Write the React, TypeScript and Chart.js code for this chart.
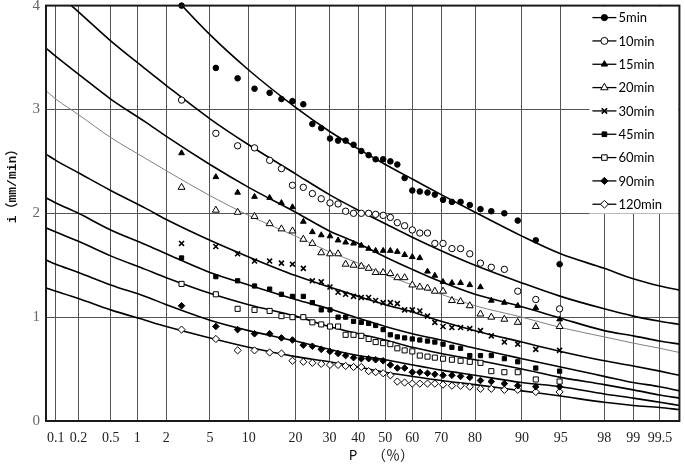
import React, { useEffect, useRef } from 'react';
import { Chart, registerables } from 'chart.js';
import { drawPoint } from 'chart.js/helpers';

Chart.register(...registerables);

const SERIES = ['5min', '10min', '15min', '20min', '30min', '45min', '60min', '90min', '120min'];
const TICK_P = [0.1, 0.2, 0.5, 1, 2, 5, 10, 20, 30, 40, 50, 60, 70, 80, 90, 95, 98, 99, 99.5];
const TICK_LABELS = ['0.1', '0.2', '0.5', '1', '2', '5', '10', '20', '30', '40', '50', '60', '70', '80', '90', '95', '98', '99', '99.5'];
const Y_TICKS = [0, 1, 2, 3, 4];
const P_MIN = 0.073;
const P_MAX = 99.71;

// empirical exceedance frequencies (%) of the observations
const OBS_P = [2.8, 5.6, 8.3, 11.0, 13.9, 16.5, 19.2, 22.1, 24.7, 27.4, 30.2, 32.9, 35.5, 38.3, 41.1, 43.8, 46.4, 49.2, 51.9, 54.5, 57.2, 60.0, 62.7, 65.4, 67.9, 70.6, 73.4, 76.0, 78.6, 81.4, 84.0, 86.8, 89.3, 92.1, 94.9];
const OBS_5 = [4.00, 3.40, 3.30, 3.20, 3.16, 3.10, 3.08, 3.05, 2.86, 2.82, 2.72, 2.70, 2.70, 2.66, 2.60, 2.56, 2.52, 2.52, 2.50, 2.47, 2.34, 2.22, 2.21, 2.20, 2.18, 2.13, 2.11, 2.11, 2.08, 2.04, 2.02, 2.00, 1.93, 1.74, 1.51];
const OBS_10 = [3.09, 2.77, 2.65, 2.63, 2.51, 2.43, 2.27, 2.25, 2.19, 2.14, 2.10, 2.09, 2.02, 2.00, 2.00, 2.00, 1.99, 1.98, 1.96, 1.91, 1.88, 1.84, 1.81, 1.81, 1.71, 1.71, 1.66, 1.66, 1.61, 1.52, 1.48, 1.46, 1.25, 1.17, 1.08];
const OBS_15 = [2.58, 2.35, 2.20, 2.16, 2.15, 2.10, 2.06, 1.92, 1.82, 1.79, 1.78, 1.74, 1.72, 1.71, 1.69, 1.66, 1.64, 1.64, 1.64, 1.63, 1.60, 1.58, 1.57, 1.44, 1.40, 1.34, 1.33, 1.33, 1.31, 1.29, 1.16, 1.14, 1.11, 1.09, 0.98];
const OBS_20 = [2.25, 2.03, 2.01, 1.97, 1.90, 1.85, 1.83, 1.75, 1.71, 1.62, 1.61, 1.61, 1.51, 1.50, 1.49, 1.47, 1.43, 1.43, 1.42, 1.38, 1.38, 1.31, 1.29, 1.28, 1.25, 1.25, 1.16, 1.15, 1.11, 1.03, 1.00, 0.98, 0.95, 0.91, 0.91];
const OBS_30 = [1.71, 1.68, 1.61, 1.54, 1.54, 1.52, 1.51, 1.47, 1.35, 1.34, 1.29, 1.24, 1.22, 1.20, 1.19, 1.19, 1.16, 1.14, 1.14, 1.13, 1.07, 1.07, 1.06, 1.01, 0.95, 0.91, 0.90, 0.90, 0.89, 0.87, 0.82, 0.76, 0.74, 0.69, 0.68];
const OBS_45 = [1.57, 1.39, 1.35, 1.30, 1.27, 1.22, 1.20, 1.20, 1.14, 1.07, 1.07, 1.00, 1.00, 0.96, 0.95, 0.94, 0.92, 0.88, 0.83, 0.81, 0.80, 0.79, 0.78, 0.77, 0.76, 0.74, 0.71, 0.70, 0.63, 0.63, 0.63, 0.60, 0.57, 0.51, 0.48];
const OBS_60 = [1.32, 1.22, 1.08, 1.07, 1.06, 1.01, 1.00, 1.00, 0.95, 0.93, 0.91, 0.91, 0.83, 0.83, 0.82, 0.79, 0.76, 0.75, 0.74, 0.70, 0.68, 0.67, 0.63, 0.62, 0.61, 0.60, 0.59, 0.58, 0.57, 0.56, 0.48, 0.47, 0.47, 0.40, 0.38];
const OBS_90 = [1.11, 0.91, 0.88, 0.84, 0.84, 0.80, 0.78, 0.73, 0.72, 0.69, 0.67, 0.65, 0.63, 0.61, 0.60, 0.60, 0.59, 0.58, 0.54, 0.51, 0.51, 0.47, 0.47, 0.46, 0.45, 0.44, 0.44, 0.43, 0.42, 0.39, 0.38, 0.36, 0.34, 0.33, 0.33];
const OBS_120 = [0.88, 0.79, 0.68, 0.68, 0.66, 0.65, 0.58, 0.57, 0.56, 0.55, 0.54, 0.54, 0.53, 0.52, 0.52, 0.48, 0.47, 0.46, 0.44, 0.38, 0.37, 0.36, 0.36, 0.36, 0.36, 0.35, 0.34, 0.34, 0.33, 0.31, 0.31, 0.30, 0.30, 0.28, 0.28];

// fitted frequency curves, read at these frequencies (%)
const CURVE_P = [0.073, 0.1, 0.2, 0.5, 1.22, 2, 5, 10, 20, 30, 40, 50, 60, 70, 80, 90, 95, 98, 99, 99.5, 99.71];
const FIT_5 = [5.48, 5.35, 5.11, 4.73, 4.37, 4.16, 3.72, 3.38, 3.02, 2.79, 2.62, 2.47, 2.33, 2.18, 2.01, 1.78, 1.61, 1.47, 1.37, 1.30, 1.26];
const FIT_10 = [4.22, 4.13, 3.94, 3.66, 3.39, 3.23, 2.91, 2.66, 2.38, 2.18, 2.03, 1.90, 1.77, 1.64, 1.50, 1.33, 1.20, 1.08, 1.01, 0.96, 0.93];
const FIT_15 = [3.59, 3.51, 3.34, 3.10, 2.88, 2.74, 2.47, 2.25, 2.01, 1.83, 1.71, 1.58, 1.46, 1.34, 1.22, 1.10, 0.99, 0.87, 0.82, 0.77, 0.74];
const FIT_20 = [3.18, 3.10, 2.95, 2.73, 2.53, 2.41, 2.17, 1.98, 1.78, 1.63, 1.52, 1.41, 1.31, 1.22, 1.11, 1.00, 0.90, 0.81, 0.75, 0.70, 0.66];
const FIT_30 = [2.57, 2.51, 2.39, 2.22, 2.05, 1.94, 1.74, 1.58, 1.40, 1.29, 1.20, 1.12, 1.05, 0.96, 0.87, 0.76, 0.67, 0.58, 0.53, 0.48, 0.44];
const FIT_45 = [2.15, 2.10, 2.00, 1.84, 1.70, 1.61, 1.43, 1.31, 1.17, 1.08, 0.99, 0.91, 0.84, 0.78, 0.70, 0.60, 0.52, 0.43, 0.37, 0.33, 0.29];
const FIT_60 = [1.86, 1.82, 1.73, 1.59, 1.46, 1.38, 1.23, 1.12, 1.01, 0.91, 0.84, 0.78, 0.71, 0.65, 0.59, 0.50, 0.42, 0.35, 0.30, 0.25, 0.22];
const FIT_90 = [1.55, 1.51, 1.43, 1.31, 1.20, 1.12, 0.97, 0.87, 0.77, 0.69, 0.63, 0.59, 0.54, 0.49, 0.44, 0.37, 0.33, 0.26, 0.22, 0.18, 0.15];
const FIT_120 = [1.28, 1.25, 1.18, 1.07, 0.97, 0.91, 0.80, 0.71, 0.62, 0.57, 0.52, 0.47, 0.43, 0.39, 0.35, 0.29, 0.24, 0.18, 0.15, 0.13, 0.11];

const OBS = [OBS_5, OBS_10, OBS_15, OBS_20, OBS_30, OBS_45, OBS_60, OBS_90, OBS_120];
const FITS = [FIT_5, FIT_10, FIT_15, FIT_20, FIT_30, FIT_45, FIT_60, FIT_90, FIT_120];

// marker styles
const MARKERS = [
  { style: 'circle', filled: true, r: 2.8, bw: 1 },
  { style: 'circle', filled: false, r: 3.2, bw: 1 },
  { style: 'triangle', filled: true, r: 3.3, bw: 1 },
  { style: 'triangle', filled: false, r: 4, bw: 1 },
  { style: 'crossRot', filled: false, r: 3.5, bw: 1.6 },
  { style: 'rect', filled: true, r: 3, bw: 1 },
  { style: 'rect', filled: false, r: 3.6, bw: 1 },
  { style: 'rectRot', filled: true, r: 3.3, bw: 1 },
  { style: 'rectRot', filled: false, r: 3.6, bw: 1 },
];

// inverse standard normal CDF (Acklam)
function normInv(p: number): number {
  const a = [-3.969683028665376e1, 2.209460984245205e2, -2.759285104469687e2, 1.38357751867269e2, -3.066479806614716e1, 2.506628277459239];
  const b = [-5.447609879822406e1, 1.615858368580409e2, -1.556989798598866e2, 6.680131188771972e1, -1.328068155288572e1];
  const c = [-7.784894002430293e-3, -3.223964580411365e-1, -2.400758277161838, -2.549732539343734, 4.374664141464968, 2.938163982698783];
  const d = [7.784695709041462e-3, 3.224671290700398e-1, 2.445134137142996, 3.754408661907416];
  const pl = 0.02425;
  if (p < pl) {
    const q = Math.sqrt(-2 * Math.log(p));
    return (((((c[0] * q + c[1]) * q + c[2]) * q + c[3]) * q + c[4]) * q + c[5]) / ((((d[0] * q + d[1]) * q + d[2]) * q + d[3]) * q + 1);
  }
  if (p > 1 - pl) {
    const q = Math.sqrt(-2 * Math.log(1 - p));
    return -(((((c[0] * q + c[1]) * q + c[2]) * q + c[3]) * q + c[4]) * q + c[5]) / ((((d[0] * q + d[1]) * q + d[2]) * q + d[3]) * q + 1);
  }
  const q = p - 0.5;
  const r = q * q;
  return (((((a[0] * r + a[1]) * r + a[2]) * r + a[3]) * r + a[4]) * r + a[5]) * q / (((((b[0] * r + b[1]) * r + b[2]) * r + b[3]) * r + b[4]) * r + 1);
}
const zOf = (pct: number) => normInv(pct / 100);

const framePlugin = {
  id: 'frameAndLegend',
  afterDraw(chart: any) {
    const { ctx, chartArea } = chart;
    const { left, right, top, bottom } = chartArea;
    ctx.save();
    // legend box
    const lx = right - 90;
    ctx.fillStyle = '#ffffff';
    ctx.fillRect(lx, top + 1, right - lx - 1, 207);
    SERIES.forEach((name, i) => {
      const y = top + 12 + i * 23.33;
      const m = MARKERS[i];
      ctx.strokeStyle = '#000';
      ctx.lineWidth = 1.3;
      ctx.beginPath();
      ctx.moveTo(lx + 3, y);
      ctx.lineTo(lx + 27, y);
      ctx.stroke();
      ctx.fillStyle = m.filled ? '#000' : '#fff';
      ctx.strokeStyle = '#000';
      ctx.lineWidth = m.bw;
      drawPoint(ctx, { pointStyle: m.style, radius: m.r + 0.3, rotation: 0, borderWidth: m.bw }, lx + 15, y);
      ctx.fillStyle = '#000';
      ctx.font = '13px Lato, "Liberation Sans", sans-serif';
      ctx.textAlign = 'left';
      ctx.textBaseline = 'middle';
      ctx.fillText(name, lx + 29, y + 0.5);
    });
    // frame
    ctx.strokeStyle = '#1a1a1a';
    ctx.lineWidth = 2;
    ctx.strokeRect(left, top, right - left, bottom - top);
    // axis titles
    ctx.fillStyle = '#111';
    ctx.font = 'bold 13px "Liberation Mono", "Noto Sans CJK SC", monospace';
    ctx.textAlign = 'center';
    ctx.textBaseline = 'middle';
    ctx.translate(13, 183);
    ctx.rotate(-Math.PI / 2);
    ctx.fillText('i（mm/min）', 0, 0);
    ctx.setTransform(1, 0, 0, 1, 0, 0);
    ctx.font = '14px "Liberation Mono", "Noto Sans CJK SC", monospace';
    ctx.textAlign = 'left';
    ctx.fillText('P', 349, 456);
    ctx.fillText('（％）', 372, 456);
    ctx.restore();
  },
};

export default function App() {
  const ref = useRef<HTMLCanvasElement | null>(null);
  useEffect(() => {
    document.body.style.margin = '0';
    const canvas = ref.current;
    if (!canvas) return;
    const datasets: any[] = [];
    SERIES.forEach((name, i) => {
      const m = MARKERS[i];
      datasets.push({
        type: 'line',
        label: name + ' fit',
        data: CURVE_P.map((p, k) => ({ x: zOf(p), y: FITS[i][k] })),
        borderColor: i === 3 ? '#808080' : '#000',
        borderWidth: i === 3 ? 1 : 1.6,
        pointRadius: 0,
        cubicInterpolationMode: 'monotone',
        fill: false,
        order: 2,
      });
      datasets.push({
        type: 'scatter',
        label: name,
        data: OBS_P.map((p, k) => ({ x: zOf(p), y: OBS[i][k] })),
        showLine: false,
        pointStyle: m.style,
        pointRadius: m.r,
        pointBorderWidth: m.bw,
        pointBackgroundColor: m.filled ? '#000' : '#fff',
        pointBorderColor: '#000',
        clip: 6,
        order: 1,
      });
    });
    const chart = new Chart(canvas, {
      type: 'scatter',
      data: { datasets },
      options: {
        responsive: false,
        animation: false,
        devicePixelRatio: 1,
        layout: { padding: { left: 0, right: 1, top: 4, bottom: 0 } },
        plugins: { legend: { display: false }, tooltip: { enabled: false } },
        scales: {
          x: {
            type: 'linear',
            min: zOf(P_MIN),
            max: zOf(P_MAX),
            afterBuildTicks: (scale: any) => {
              scale.ticks = TICK_P.map((p) => ({ value: zOf(p) }));
            },
            afterFit: (scale: any) => {
              scale.height = 44;
              scale.paddingLeft = 0;
              scale.paddingRight = 0;
            },
            grid: { color: '#555', lineWidth: 1, drawTicks: false },
            border: { color: '#1a1a1a', width: 2 },
            ticks: {
              autoSkip: false,
              maxRotation: 0,
              padding: 9,
              color: '#222',
              font: { family: '"Liberation Serif", serif', size: 14 },
              callback: (_v: any, idx: number) => TICK_LABELS[idx],
            },
          },
          y: {
            type: 'linear',
            min: 0,
            max: 4,
            afterBuildTicks: (scale: any) => {
              scale.ticks = Y_TICKS.map((v) => ({ value: v }));
            },
            afterFit: (scale: any) => {
              scale.width = 46;
              scale.paddingTop = 0;
              scale.paddingBottom = 0;
            },
            grid: { color: '#555', lineWidth: 1, drawTicks: false },
            border: { color: '#1a1a1a', width: 2 },
            ticks: {
              padding: 6,
              color: '#666',
              font: { family: '"Liberation Serif", serif', size: 15 },
              callback: (v: any) => String(v),
            },
          },
        },
      },
      plugins: [framePlugin],
    } as any);
    return () => chart.destroy();
  }, []);
  return <canvas ref={ref} width={685} height={465} style={{ display: 'block' }} />;
}
